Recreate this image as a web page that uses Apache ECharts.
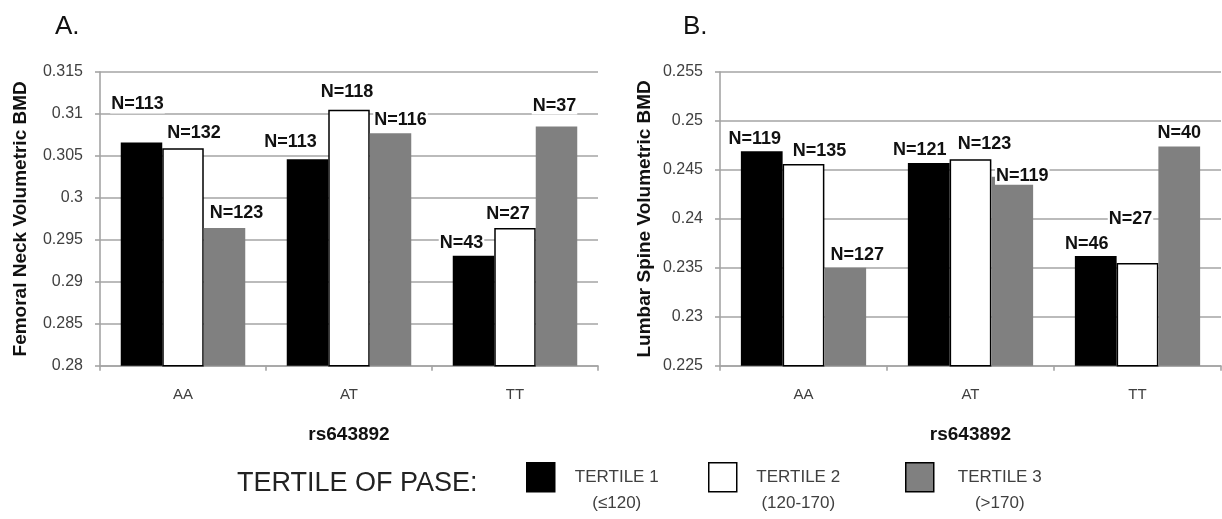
<!DOCTYPE html>
<html><head><meta charset="utf-8">
<script src="https://cdn.jsdelivr.net/npm/echarts@6/dist/echarts.min.js"></script>
<style>html,body{margin:0;padding:0;background:#fff}#c{width:1222px;height:519px}</style>
</head><body><div id="c"></div>
<script>
// ---- data ----
const categories = ['AA', 'AT', 'TT'];
const seriesNames = ['TERTILE 1', 'TERTILE 2', 'TERTILE 3'];
const legendSub = ['(≤120)', '(120-170)', '(>170)'];
const femoralT1 = [0.3066, 0.3046, 0.2931];
const femoralT2 = [0.3059, 0.3105, 0.2964];
const femoralT3 = [0.2964, 0.3077, 0.3085];
const femoralN1 = [113, 113, 43];
const femoralN2 = [132, 118, 27];
const femoralN3 = [123, 116, 37];
const lumbarT1 = [0.2469, 0.2457, 0.2362];
const lumbarT2 = [0.2456, 0.2461, 0.2355];
const lumbarT3 = [0.2350, 0.2443, 0.2474];
const lumbarN1 = [119, 121, 46];
const lumbarN2 = [135, 123, 27];
const lumbarN3 = [127, 119, 40];
const femoralAxis = { min: 0.28, max: 0.315, interval: 0.005 };
const lumbarAxis = { min: 0.225, max: 0.255, interval: 0.005 };

// ---- style (label nudges, not data) ----
const offA = [[[-4,-24],[-17,-3],[-12,1]], [[11,-1],[-2,-4],[-7,0]], [[12,-1],[10,1],[-2,-7]]];
const offB = [[[-7,2],[-9,1],[-9,2]], [[16,1],[14,-1],[-7,-30]], [[12,1],[10,13],[0,1]]];
const colors = ['#000000', '#ffffff', '#808080'];
const gridColor = '#a4a4a4';
const font = '"Liberation Sans", Arial, sans-serif';

function mkSeries(vals, ns, idx, gi, offs) {
  return {
    type: 'bar', name: seriesNames[idx], xAxisIndex: gi, yAxisIndex: gi,
    barGap: '0%', barCategoryGap: '25%',
    itemStyle: idx === 1 ? { color: colors[idx], borderColor: '#000', borderWidth: 1.5 } : { color: colors[idx] },
    label: {
      show: true, position: 'top', distance: 5,
      fontFamily: font, fontWeight: 'bold', fontSize: 18, color: '#111',
      backgroundColor: '#fff', padding: [0, 1]
    },
    data: vals.map((v, i) => ({
      value: v,
      label: { formatter: 'N=' + ns[i], offset: offs[idx][i] }
    }))
  };
}

function yAx(gi, cfg, name, gap) {
  return {
    type: 'value', gridIndex: gi, min: cfg.min, max: cfg.max, interval: cfg.interval,
    name: name, nameLocation: 'middle', nameGap: gap,
    nameTextStyle: { fontFamily: font, fontWeight: 'bold', fontSize: 19, color: '#111' },
    axisLine: { show: true, lineStyle: { color: gridColor, width: 1.6 } },
    axisTick: { show: true, length: 5, lineStyle: { color: gridColor, width: 1.6 } },
    axisLabel: { fontFamily: font, fontSize: 16, color: '#404040', margin: 17 },
    splitLine: { show: true, lineStyle: { color: gridColor, width: 1.6 } }
  };
}
function xAx(gi) {
  return {
    type: 'category', gridIndex: gi, data: categories,
    name: 'rs643892', nameLocation: 'middle', nameGap: 60,
    nameTextStyle: { fontFamily: font, fontWeight: 'bold', fontSize: 19, color: '#111' },
    axisLine: { show: true, lineStyle: { color: gridColor, width: 1.6 } },
    axisTick: { show: true, length: 5, lineStyle: { color: gridColor, width: 1.6 } },
    axisLabel: { fontFamily: font, fontSize: 15, color: '#404040', margin: 22 }
  };
}

const legendBoxes = [[526, 114], [708, 113], [905, 122]];
const legends = seriesNames.map((n, i) => ({
  left: legendBoxes[i][0], top: 462, orient: 'horizontal',
  itemWidth: 28, itemHeight: 29, itemGap: 5, padding: 0, selectedMode: false,
  icon: 'rect',
  data: [{ name: n, itemStyle: { borderColor: '#000', borderWidth: 1.5 } }],
  formatter: () => '{a|' + n + '}\n{a|' + legendSub[i] + '}',
  textStyle: {
    fontFamily: font, fontSize: 17, color: '#404040', padding: [26, 0, 0, 0],
    rich: { a: { fontFamily: font, fontSize: 17, color: '#404040', width: legendBoxes[i][1], align: 'center', lineHeight: 26 } }
  }
}));

const chart = echarts.init(document.getElementById('c'), null, { renderer: 'canvas' });
chart.setOption({
  animation: false,
  backgroundColor: '#fff',
  title: [
    { text: 'A.', left: 50, top: 9, textStyle: { fontFamily: font, fontSize: 26, fontWeight: 'normal', color: '#111' } },
    { text: 'B.', left: 678, top: 9, textStyle: { fontFamily: font, fontSize: 26, fontWeight: 'normal', color: '#111' } },
    { text: 'TERTILE OF PASE:', left: 232, top: 465, textStyle: { fontFamily: font, fontSize: 27, fontWeight: 'normal', color: '#222' } }
  ],
  legend: legends,
  grid: [
    { left: 100, top: 72, width: 498, bottom: 153.3 },
    { left: 720, top: 72, width: 501, bottom: 153.3 }
  ],
  xAxis: [xAx(0), xAx(1)],
  yAxis: [yAx(0, femoralAxis, 'Femoral Neck Volumetric BMD', 70), yAx(1, lumbarAxis, 'Lumbar Spine Volumetric BMD', 66)],
  series: [
    mkSeries(femoralT1, femoralN1, 0, 0, offA),
    mkSeries(femoralT2, femoralN2, 1, 0, offA),
    mkSeries(femoralT3, femoralN3, 2, 0, offA),
    mkSeries(lumbarT1, lumbarN1, 0, 1, offB),
    mkSeries(lumbarT2, lumbarN2, 1, 1, offB),
    mkSeries(lumbarT3, lumbarN3, 2, 1, offB)
  ]
});
</script></body></html>
